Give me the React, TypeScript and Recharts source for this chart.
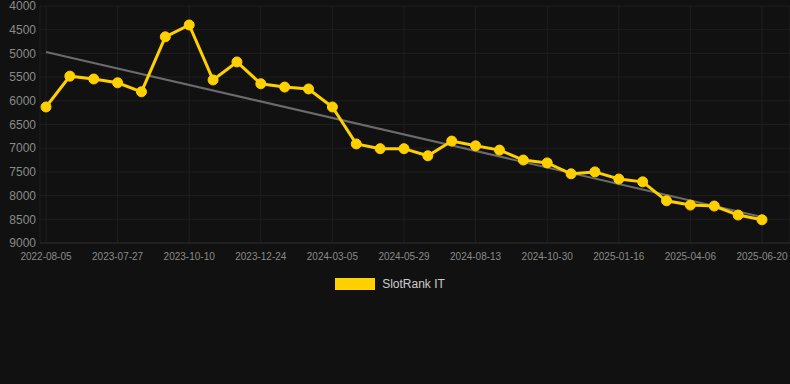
import React from "react";
import {
  LineChart,
  Line,
  XAxis,
  YAxis,
  CartesianGrid,
  Legend,
  ReferenceLine,
} from "recharts";

const dates = [
  "2022-08-05", "2022-12-01", "2023-04-10", "2023-07-27", "2023-08-21",
  "2023-09-15", "2023-10-10", "2023-11-04", "2023-11-29", "2023-12-24",
  "2024-01-17", "2024-02-10", "2024-03-05", "2024-04-01", "2024-04-29",
  "2024-05-29", "2024-06-24", "2024-07-19", "2024-08-13", "2024-09-08",
  "2024-10-04", "2024-10-30", "2024-11-25", "2024-12-21", "2025-01-16",
  "2025-02-11", "2025-03-10", "2025-04-06", "2025-05-01", "2025-05-26",
  "2025-06-20",
];

const rankIT = [
  6130, 5480, 5540, 5620, 5810, 4650, 4400, 5560, 5180, 5640,
  5710, 5750, 6130, 6910, 7010, 7010, 7160, 6850, 6950, 7040,
  7250, 7310, 7540, 7500, 7650, 7710, 8110, 8200, 8220, 8410,
  8510,
];

const trendStart = 4970;
const trendEnd = 8450;

const xTicks = dates.filter((_, i) => i % 3 === 0);
const yTicks = [4000, 4500, 5000, 5500, 6000, 6500, 7000, 7500, 8000, 8500, 9000];

const data = dates.map((date, i) => ({ date, rank: rankIT[i] }));

export default function App() {
  return (
    <div
      style={{
        position: "absolute",
        left: 0,
        top: 0,
        width: 790,
        height: 384,
        background: "#111111",
        fontFamily: "Arial, 'Liberation Sans', sans-serif",
      }}
    >
      <LineChart
        width={790}
        height={384}
        data={data}
        margin={{ top: 6, right: 0, left: 0, bottom: 121 }}
      >
        <CartesianGrid stroke="#1f1f1f" strokeWidth={1} />
        <XAxis
          dataKey="date"
          ticks={xTicks}
          interval={0}
          padding={{ left: 6, right: 28 }}
          height={20}
          axisLine={{ stroke: "#2a2a2a" }}
          tickLine={false}
          tickSize={6}
          tickMargin={4}
          tick={{ fill: "#8a8a8a", fontSize: 10 }}
        />
        <YAxis
          reversed
          domain={[4000, 9000]}
          ticks={yTicks}
          interval={0}
          width={40}
          axisLine={false}
          tickLine={false}
          tickSize={3}
          tickMargin={1}
          tick={{ fill: "#8a8a8a", fontSize: 12 }}
        />
        <ReferenceLine
          segment={[
            { x: dates[0], y: trendStart },
            { x: dates[dates.length - 1], y: trendEnd },
          ]}
          stroke="#6b6b6b"
          strokeWidth={2}
          ifOverflow="visible"
        />
        <Line
          type="linear"
          dataKey="rank"
          name="SlotRank IT"
          stroke="#FFD000"
          strokeWidth={3}
          dot={{ r: 5, fill: "#FFD000", stroke: "#FFD000", strokeWidth: 1 }}
          activeDot={false}
          isAnimationActive={false}
        />
        <Legend
          verticalAlign="middle"
          align="center"
          wrapperStyle={{ top: 277, fontSize: 12 }}
          content={() => (
            <div
              style={{
                display: "flex",
                justifyContent: "center",
                alignItems: "center",
                gap: 7,
                marginLeft: -10,
              }}
            >
              <span
                style={{
                  display: "inline-block",
                  width: 40,
                  height: 12,
                  background: "#FFD000",
                }}
              />
              <span style={{ color: "#cccccc", fontSize: 12 }}>SlotRank IT</span>
            </div>
          )}
        />
      </LineChart>
    </div>
  );
}
